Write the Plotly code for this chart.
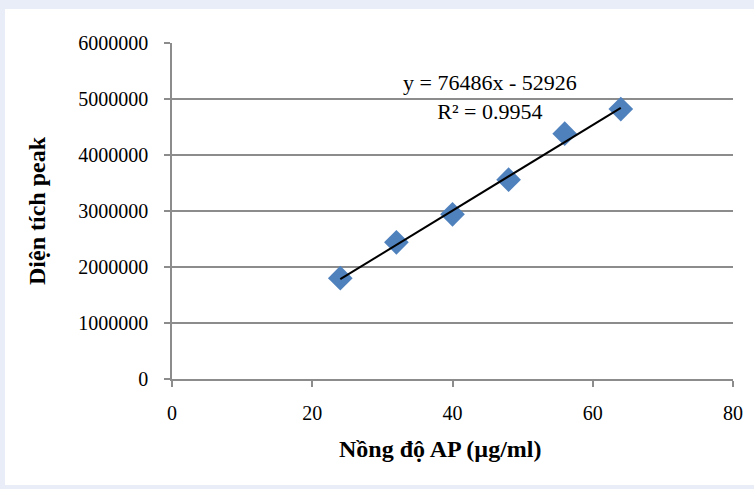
import plotly.graph_objects as go

# Calibration data: AP concentration vs. peak area
concentration = [24, 32, 40, 48, 56, 64]
peak_area = [1800000, 2440000, 2940000, 3560000, 4380000, 4820000]

# Linear regression reported for the calibration curve
slope = 76486
intercept = -52926
r_squared = 0.9954

x_ticks = [0, 20, 40, 60, 80]
y_ticks = [0, 1000000, 2000000, 3000000, 4000000, 5000000, 6000000]

fit_x = [min(concentration), max(concentration)]
fit_y = [slope * x + intercept for x in fit_x]

serif = "Liberation Serif, Times New Roman, serif"
grid_color = "#8c8c8c"

# Plot-area geometry in pixels
W, H = 754, 489
L, R, T, B = 172, 21, 43, 110
plot_w = W - L - R
plot_h = H - T - B


def px_x(px):
    return (px - L) / plot_w


def px_y(py):
    return (H - B - py) / plot_h


fig = go.Figure()

fig.add_trace(go.Scatter(
    x=concentration, y=peak_area, mode="markers",
    marker=dict(symbol="diamond", size=19, color="#4f81bd",
                line=dict(width=0)),
    showlegend=False, hoverinfo="x+y",
))

fig.add_trace(go.Scatter(
    x=fit_x, y=fit_y, mode="lines",
    line=dict(color="black", width=2),
    showlegend=False, hoverinfo="skip",
))

fig.add_annotation(
    x=px_x(490), y=px_y(97), xref="paper", yref="paper",
    xanchor="center", yanchor="middle",
    text=f"y = {slope}x - {abs(intercept)}<br>R² = {r_squared}",
    showarrow=False, align="center",
    font=dict(family=serif, size=22, color="black"),
)

# Axis titles
fig.add_annotation(
    x=px_x(440), y=px_y(449), xref="paper", yref="paper",
    xanchor="center", yanchor="middle",
    text="<b>Nồng độ AP (µg/ml)</b>", showarrow=False,
    font=dict(family=serif, size=24, color="black"),
)
fig.add_annotation(
    x=px_x(37), y=0.5, xref="paper", yref="paper",
    xanchor="center", yanchor="middle",
    text="<b>Diện tích peak</b>", showarrow=False, textangle=-90,
    font=dict(family=serif, size=24, color="black"),
)

# White chart panel on the tinted page
fig.add_shape(
    type="rect", xref="paper", yref="paper",
    x0=px_x(5), x1=px_x(760), y0=px_y(485), y1=px_y(9),
    fillcolor="white", line=dict(width=0), layer="below",
)

fig.update_layout(
    width=W, height=H,
    margin=dict(l=L, r=R, t=T, b=B),
    paper_bgcolor="#e8edf7", plot_bgcolor="white",
    font=dict(family=serif, size=20, color="black"),
    xaxis=dict(
        range=[0, 80], tickvals=x_ticks, showgrid=False, zeroline=False,
        showline=True, linecolor=grid_color, linewidth=1.5,
        ticks="outside", ticklen=6, tickcolor=grid_color, tickwidth=1.5,
        ticklabelstandoff=9,
        tickfont=dict(family=serif, size=20, color="black"),
    ),
    yaxis=dict(
        range=[0, 6000000], tickvals=y_ticks, tickformat="d",
        showgrid=True, gridcolor=grid_color, gridwidth=1.5, zeroline=False,
        showline=True, linecolor=grid_color, linewidth=1.5,
        ticks="outside", ticklen=6, tickcolor=grid_color, tickwidth=1.5,
        ticklabelstandoff=12,
        tickfont=dict(family=serif, size=20, color="black"),
    ),
)

fig.write_html("out.html")
